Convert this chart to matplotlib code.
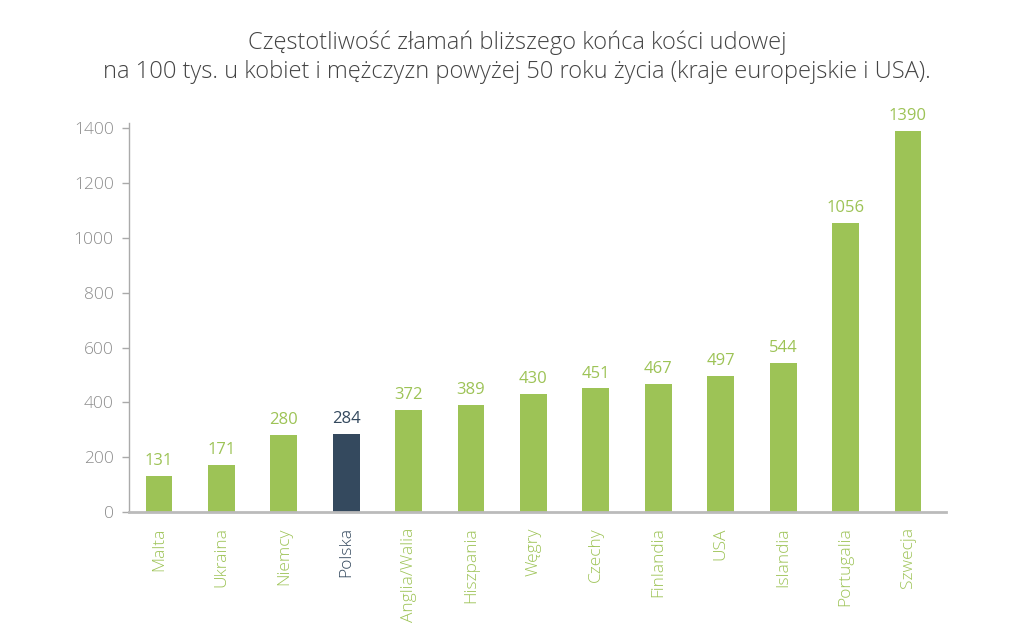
import matplotlib
matplotlib.use("Agg")
import matplotlib.pyplot as plt

# data
countries = ["Malta", "Ukraina", "Niemcy", "Polska", "Anglia/Walia", "Hiszpania",
             "Węgry", "Czechy", "Finlandia", "USA", "Islandia", "Portugalia", "Szwecja"]
values = [131, 171, 280, 284, 372, 389, 430, 451, 467, 497, 544, 1056, 1390]
highlight = "Polska"
y_ticks = [0, 200, 400, 600, 800, 1000, 1200, 1400]

GREEN = "#9dc356"
NAVY = "#34495e"
GRAY = "#8c8c8c"

plt.rcParams['font.family'] = ['Open Sans', 'DejaVu Sans']
plt.rcParams['font.weight'] = 'light'

fig = plt.figure(figsize=(10.24, 6.36), dpi=100)
ax = fig.add_axes([129 / 1024, 1 - 512 / 636, (946 - 129) / 1024, (512 - 123) / 636])

colors = [NAVY if c == highlight else GREEN for c in countries]
x = list(range(len(countries)))
bars = ax.bar(x, values, width=0.43, color=colors)

for xi, v, col in zip(x, values, colors):
    ax.annotate(str(v), (xi, v), xytext=(0, 5), textcoords="offset points",
                ha="center", va="bottom", color=col, fontsize=12, fontweight="normal")

ax.set_xlim(-0.48, len(countries) - 1 + 0.61)
ax.set_ylim(0, 1420)
ax.set_yticks(y_ticks)
ax.set_yticklabels([str(t) for t in y_ticks], color=GRAY, fontsize=12.5)
ax.tick_params(axis="y", length=5, color="#aaaaaa", width=1, pad=6)

ax.set_xticks(x)
ax.set_xticklabels(countries, rotation=90, fontsize=12.5)
for lbl, col in zip(ax.get_xticklabels(), colors):
    lbl.set_color(col)
ax.tick_params(axis="x", length=0, pad=11)

for s in ["top", "right"]:
    ax.spines[s].set_visible(False)
ax.spines["left"].set_color("#aaaaaa")
ax.spines["left"].set_linewidth(1)
ax.spines["bottom"].set_color("#bbbbbb")
ax.spines["bottom"].set_linewidth(2)

fig.text(0.505, 0.91, "Częstotliwość złamań bliższego końca kości udowej\n"
         "na 100 tys. u kobiet i mężczyzn powyżej 50 roku życia (kraje europejskie i USA).",
         ha="center", va="center", fontsize=17, color="#444444", linespacing=1.25)

fig.savefig("out.png", dpi=100)
